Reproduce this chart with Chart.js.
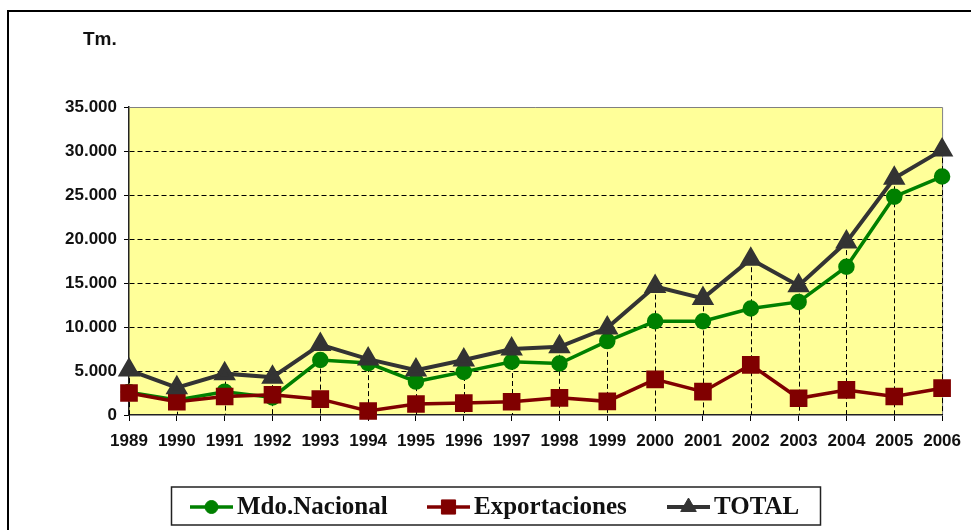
<!DOCTYPE html>
<html>
<head>
<meta charset="utf-8">
<title>Tm.</title>
<script src="https://cdn.jsdelivr.net/npm/chart.js@4.4.1/dist/chart.umd.min.js"></script>
<style>
  html, body { margin: 0; padding: 0; background: #fff; }
  #wrap { position: relative; width: 971px; height: 530px; }
</style>
</head>
<body>
<div id="wrap"><canvas id="myChart" width="971" height="530"></canvas></div>
<script>
// data (Tm.)
const years = ['1989', '1990', '1991', '1992', '1993', '1994', '1995', '1996', '1997',
               '1998', '1999', '2000', '2001', '2002', '2003', '2004', '2005', '2006'];
const mdoNacional = [2600, 1700, 2650, 2000, 6250, 5900, 3800, 4900, 6050,
                     5850, 8400, 10650, 10650, 12100, 12850, 16850, 24800, 27100];
const exportaciones = [2500, 1500, 2100, 2300, 1800, 450, 1250, 1350, 1500,
                       1950, 1550, 4050, 2650, 5700, 1900, 2850, 2100, 3050];
const total = [5100, 3100, 4700, 4300, 8000, 6350, 5100, 6250, 7500,
               7750, 9900, 14600, 13250, 17700, 14700, 19650, 26900, 30100];
const yTickValues = [0, 5000, 10000, 15000, 20000, 25000, 30000, 35000];
const unitLabel = 'Tm.';

const axisFont = { family: "'Liberation Sans', Arial, sans-serif", size: 17, weight: 'bold' };

function fmt(v) {
  return String(v).replace(/\B(?=(\d{3})+(?!\d))/g, '.');
}

// background, frame and plot fill
const framePlugin = {
  id: 'frame',
  beforeDraw(chart) {
    const { ctx, chartArea: a } = chart;
    ctx.save();
    ctx.fillStyle = '#fff';
    ctx.fillRect(0, 0, chart.width, chart.height);
    ctx.fillStyle = '#FFFF99';
    ctx.fillRect(a.left, a.top, a.right - a.left, a.bottom - a.top);
    ctx.strokeStyle = '#000';
    ctx.lineWidth = 2;
    ctx.strokeRect(8, 11, chart.width + 20, chart.height + 20);
    ctx.restore();
  }
};

// excel style drop lines, from the highest point down to the axis
const dropLines = {
  id: 'dropLines',
  beforeDatasetsDraw(chart) {
    const { ctx, chartArea: a, scales: { x, y } } = chart;
    ctx.save();
    ctx.strokeStyle = '#808080';
    ctx.lineWidth = 1;
    ctx.beginPath();
    ctx.moveTo(a.left, a.top + 0.5);
    ctx.lineTo(a.right + 0.5, a.top + 0.5);
    ctx.lineTo(a.right + 0.5, a.bottom);
    ctx.stroke();

    ctx.strokeStyle = '#000';
    ctx.setLineDash([5, 3]);
    years.forEach((yr, i) => {
      const top = Math.max(...chart.data.datasets.map(d => d.data[i]));
      const px = Math.round(x.getPixelForValue(i)) + 0.5;
      ctx.beginPath();
      ctx.moveTo(px, y.getPixelForValue(top));
      ctx.lineTo(px, a.bottom);
      ctx.stroke();
    });
    ctx.restore();
  }
};

// unit label and a boxed legend like the original
const legendBox = {
  id: 'legendBox',
  afterDraw(chart) {
    const { ctx } = chart;
    ctx.save();
    ctx.fillStyle = '#111';
    ctx.font = "bold 19px 'Liberation Sans', Arial, sans-serif";
    ctx.textBaseline = 'middle';
    ctx.textAlign = 'left';
    ctx.fillText(unitLabel, 83, 40);

    ctx.strokeStyle = '#222';
    ctx.lineWidth = 1.5;
    ctx.strokeRect(171.5, 487, 649, 38);

    const itemX = [190, 427, 667];
    const cy = 507;
    ctx.font = "bold 25px 'Liberation Serif', 'Times New Roman', serif";
    chart.data.datasets.forEach((ds, i) => {
      const x0 = itemX[i];
      ctx.strokeStyle = ds.borderColor;
      ctx.lineWidth = ds.borderWidth;
      ctx.beginPath();
      ctx.moveTo(x0, cy);
      ctx.lineTo(x0 + 43, cy);
      ctx.stroke();
      ctx.fillStyle = ds.pointBackgroundColor;
      ctx.strokeStyle = ds.pointBorderColor;
      ctx.lineWidth = 1;
      Chart.helpers.drawPoint(ctx, {
        pointStyle: ds.pointStyle, radius: ds.pointRadius, rotation: 0, borderWidth: 1
      }, x0 + 21.5, cy);
      ctx.fillStyle = '#111';
      ctx.fillText(ds.label, x0 + 47, cy + 1);
    });
    ctx.restore();
  }
};

const ctx = document.getElementById('myChart').getContext('2d');

const myChart = new Chart(ctx, {
  type: 'line',
  data: {
    labels: years,
    datasets: [
      {
        label: 'Mdo.Nacional',
        data: mdoNacional,
        borderColor: '#008000',
        backgroundColor: '#008000',
        pointBackgroundColor: '#008000',
        pointBorderColor: '#008000',
        borderWidth: 3.5,
        pointStyle: 'circle',
        pointRadius: 6.5,
        order: 3
      },
      {
        label: 'Exportaciones',
        data: exportaciones,
        borderColor: '#800000',
        backgroundColor: '#800000',
        pointBackgroundColor: '#800000',
        pointBorderColor: '#800000',
        borderWidth: 3.5,
        pointStyle: 'rect',
        pointRadius: 10,
        order: 2
      },
      {
        label: 'TOTAL',
        data: total,
        borderColor: '#333333',
        backgroundColor: '#333333',
        pointBackgroundColor: '#333333',
        pointBorderColor: '#333333',
        borderWidth: 4,
        pointStyle: 'triangle',
        pointRadius: 9,
        order: 1
      }
    ]
  },
  options: {
    responsive: false,
    animation: false,
    events: [],
    clip: false,
    layout: { padding: { left: 0, right: 25, top: 107, bottom: 0 } },
    elements: { line: { tension: 0 }, point: { borderWidth: 1 } },
    plugins: {
      legend: { display: false },
      tooltip: { enabled: false }
    },
    scales: {
      x: {
        offset: false,
        grid: {
          drawOnChartArea: false,
          drawTicks: true,
          tickLength: 6,
          tickColor: '#000',
          tickWidth: 1
        },
        border: { color: '#222', width: 1.5 },
        ticks: { color: '#111', font: axisFont, padding: 10, maxRotation: 0, autoSkip: false },
        afterFit(scale) { scale.height = 115; }
      },
      y: {
        min: 0,
        max: 35000,
        afterBuildTicks(scale) { scale.ticks = yTickValues.map(v => ({ value: v })); },
        grid: {
          color: c => (c.tick && (c.tick.value === 0 || c.tick.value === 35000)) ? 'rgba(0,0,0,0)' : '#000',
          lineWidth: 1,
          tickLength: 5,
          tickColor: '#000',
          tickBorderDash: []
        },
        border: { color: '#222', width: 1.5, dash: [5, 3] },
        ticks: { color: '#111', font: axisFont, padding: 7, callback: v => fmt(v) },
        afterFit(scale) { scale.width = 129; }
      }
    }
  },
  plugins: [framePlugin, dropLines, legendBox]
});
</script>
</body>
</html>
